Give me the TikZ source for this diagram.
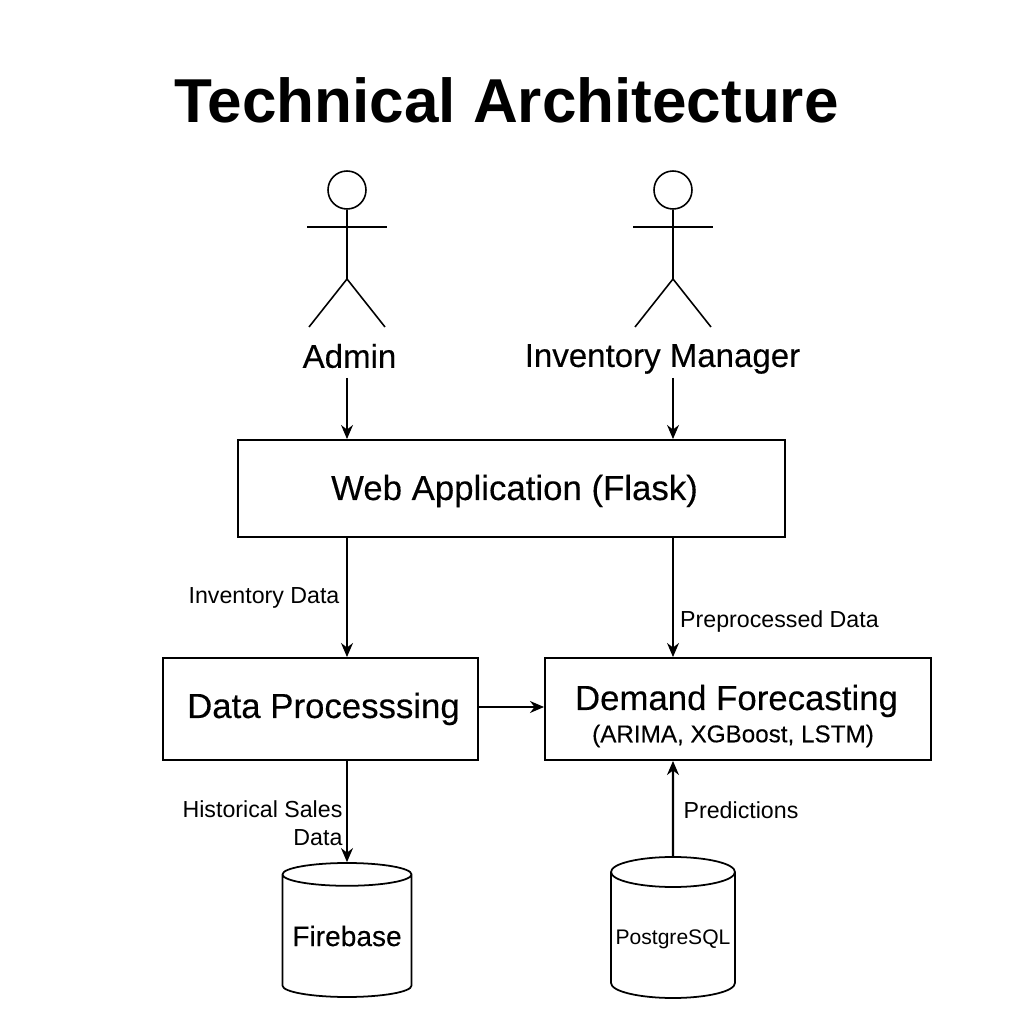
\documentclass[tikz,border=0pt]{standalone}
\usepackage{fontspec}
\setmainfont{Liberation Sans}
\newfontfamily\medfont[FakeBold=0.25]{Liberation Sans}
\usetikzlibrary{shapes.geometric,arrows.meta}
\tikzstyle{boxNode}=[draw,line width=0.55pt,inner sep=0pt]
\tikzstyle{dbNode}=[draw,line width=0.5pt,shape=cylinder,shape border rotate=90,anchor=shape center,inner sep=0.3cm]
\tikzstyle{headNode}=[draw,circle,line width=0.45pt,minimum size=0.38cm,inner sep=0pt]
\tikzstyle{textNode}=[inner sep=0pt,font=\medfont\fontsize{9.4pt}{10pt}\selectfont]
\tikzstyle{boxText}=[inner sep=0pt,font=\medfont\fontsize{9.9pt}{11pt}\selectfont]
\tikzstyle{edgeLabel}=[inner sep=0pt,font=\fontsize{6.6pt}{8.1pt}\selectfont,align=right]
\tikzstyle{flow}=[-{Stealth[length=4pt,width=3.4pt]},line width=0.45pt]
\tikzstyle{limb}=[line width=0.45pt]

\begin{document}
\begin{tikzpicture}

    \useasboundingbox (0,0) rectangle (10.24,10.24);

    \node[inner sep=0pt,font=\fontsize{17.65pt}{20pt}\selectfont\bfseries] (title) at (5.065,9.24) {Technical Architecture};

    % actors
    \node[headNode] (head1) at (3.47,8.34) {};
    \coordinate (armL1) at (3.07,7.97);
    \coordinate (armR1) at (3.87,7.97);
    \coordinate (hip1) at (3.47,7.45);
    \coordinate (legL1) at (3.09,6.97);
    \coordinate (legR1) at (3.85,6.97);
    \node[textNode] (admin) at (3.495,6.68) {Admin};

    \node[headNode] (head2) at (6.73,8.34) {};
    \coordinate (armL2) at (6.33,7.97);
    \coordinate (armR2) at (7.13,7.97);
    \coordinate (hip2) at (6.73,7.45);
    \coordinate (legL2) at (6.35,6.97);
    \coordinate (legR2) at (7.11,6.97);
    \node[textNode] (manager) at (6.625,6.65) {Inventory Manager};

    \draw[limb] (head1) to (hip1);
    \draw[limb] (armL1) to (armR1);
    \draw[limb] (legL1) to (hip1);
    \draw[limb] (hip1) to (legR1);

    \draw[limb] (head2) to (hip2);
    \draw[limb] (armL2) to (armR2);
    \draw[limb] (legL2) to (hip2);
    \draw[limb] (hip2) to (legR2);

    % boxes
    \node[boxNode,minimum width=5.47cm,minimum height=0.97cm] (web) at (5.115,5.355) {};
    \node[boxText] (webText) at (5.145,5.33) {Web Application (Flask)};
    \node[boxNode,minimum width=3.15cm,minimum height=1.02cm] (proc) at (3.205,3.15) {};
    \node[boxText] (procText) at (3.235,3.15) {Data Processsing};
    \node[boxNode,minimum width=3.86cm,minimum height=1.02cm] (fore) at (7.38,3.15) {};
    \node[boxText] (foreText) at (7.365,3.23) {Demand Forecasting};
    \node[inner sep=0pt,font=\medfont\fontsize{6.9pt}{8pt}\selectfont] (foreSub) at (7.33,2.88) {(ARIMA, XGBoost, LSTM)};

    % databases
    \node[dbNode,shape aspect=0.38,minimum width=1.29cm,minimum height=1.34cm] (firebase) at (3.47,0.94) {};
    \node[inner sep=0pt,font=\medfont\fontsize{8pt}{9pt}\selectfont] (fireText) at (3.47,0.88) {Firebase};
    \node[dbNode,shape aspect=0.5,minimum width=1.24cm,minimum height=1.41cm] (postgres) at (6.73,0.965) {};
    \node[inner sep=0pt,font=\fontsize{6pt}{8pt}\selectfont] (pgText) at (6.73,0.85) {PostgreSQL};

    % arrows
    \coordinate (adminFoot) at (3.47,6.46);
    \coordinate (managerFoot) at (6.73,6.46);
    \draw[flow] (adminFoot) to (web.north -| adminFoot);
    \draw[flow] (managerFoot) to (web.north -| managerFoot);
    \draw[flow] (web.south -| adminFoot) to (proc.north -| adminFoot);
    \draw[flow] (web.south -| managerFoot) to (fore.north -| managerFoot);
    \draw[flow] ([yshift=0.02cm]proc.east) to ([yshift=0.02cm]fore.west);
    \draw[flow] (proc.south -| adminFoot) to (firebase.north);
    \draw[flow,line width=0.6pt] (postgres.north) to (fore.south -| managerFoot);

    % labels
    \node[edgeLabel] (lab1) at (2.64,4.265) {Inventory Data};
    \node[edgeLabel] (lab2) at (7.795,4.025) {Preprocessed Data};
    \node[edgeLabel] (lab3) at (2.625,2.01) {Historical Sales\\Data};
    \node[edgeLabel] (lab4) at (7.41,2.14) {Predictions};

\end{tikzpicture}
\end{document}
